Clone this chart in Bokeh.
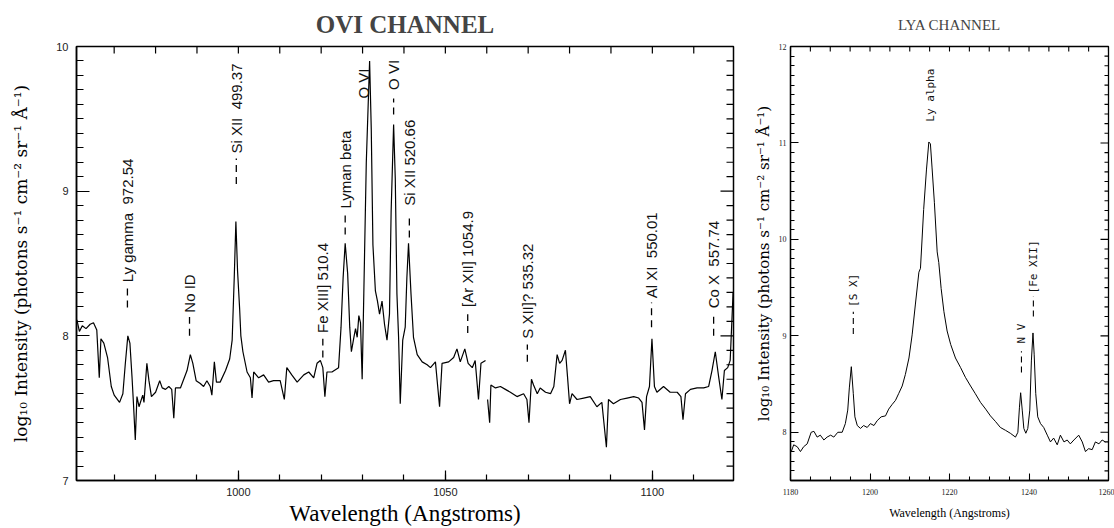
from bokeh.plotting import figure
from bokeh.models import FixedTicker, Range1d
from bokeh.layouts import row
from bokeh.embed import file_html
from bokeh.resources import INLINE
from bokeh.core.properties import value
import numpy as np

# ---------------- OVI channel spectrum (two detector segments) ----------------
ovi_wave_a = [961.0, 961.6, 962.3, 963.2, 964.2, 965.0, 965.8, 966.4, 966.8, 967.5, 968.4, 969.3, 970.0, 971.3,
              972.1, 972.7, 973.3, 973.8, 974.3, 974.7, 975.1, 975.5, 976.0, 976.9, 977.2, 977.9, 978.4, 979.0,
              980.0, 981.0, 981.6, 982.4, 983.2, 983.9, 984.4, 984.8, 986.0, 986.8, 987.6, 988.4, 989.0, 989.8,
              990.8, 991.6, 992.4, 993.2, 993.6, 994.2, 994.7, 995.6, 996.9, 997.9, 998.5, 999.0, 999.4, 999.8,
              1000.3, 1000.6, 1001.1, 1002.1, 1002.9, 1003.3, 1003.7, 1004.9, 1006.1, 1007.3, 1008.5, 1010.1,
              1011.1, 1011.7, 1012.9, 1014.2, 1015.8, 1017.0, 1018.2, 1019.0, 1019.8, 1020.4, 1020.9, 1021.4,
              1022.6, 1024.2, 1024.8, 1025.3, 1025.8, 1026.4, 1026.9, 1027.3, 1027.9, 1028.3, 1028.7, 1029.1,
              1029.5, 1029.9, 1030.3, 1030.9, 1031.7, 1032.1, 1032.5, 1033.1, 1033.6, 1034.1, 1034.7, 1035.3,
              1035.9, 1036.5, 1036.9, 1037.5, 1037.9, 1038.3, 1038.7, 1039.1, 1039.7, 1040.3, 1040.7, 1041.1,
              1041.7, 1042.3, 1043.2, 1044.4, 1045.6, 1046.4, 1047.6, 1048.6, 1049.2, 1050.8, 1052.0, 1052.8,
              1053.6, 1054.7, 1055.5, 1056.5, 1057.2, 1058.0, 1058.6, 1059.7]
ovi_logI_a = [8.11, 8.03, 8.07, 8.05, 8.08, 8.09, 8.04, 7.71, 7.98, 7.95, 7.85, 7.65, 7.59, 7.54,
              7.60, 7.81, 8.00, 7.95, 7.72, 7.51, 7.28, 7.58, 7.51, 7.59, 7.54, 7.81, 7.69, 7.58,
              7.61, 7.69, 7.64, 7.63, 7.65, 7.63, 7.43, 7.64, 7.64, 7.70, 7.76, 7.87, 7.81, 7.69,
              7.67, 7.65, 7.69, 7.65, 7.59, 7.82, 7.68, 7.68, 7.76, 7.84, 7.97, 8.40, 8.79, 8.45,
              8.19, 8.00, 7.89, 7.75, 7.71, 7.57, 7.75, 7.71, 7.73, 7.68, 7.69, 7.69,
              7.56, 7.78, 7.73, 7.68, 7.73, 7.75, 7.71, 7.81, 7.83, 7.78, 7.58, 7.75,
              7.75, 7.78, 8.06, 8.40, 8.64, 8.43, 8.06, 7.89, 7.99, 8.05, 7.99, 8.14,
              8.09, 7.70, 8.29, 9.20, 9.90, 9.43, 8.63, 8.31, 8.24, 8.15, 8.24, 8.08,
              7.97, 8.15, 8.86, 9.46, 9.09, 8.29, 7.99, 7.53, 7.97, 8.06, 8.40, 8.64,
              8.29, 7.99, 7.87, 7.82, 7.80, 7.78, 7.82, 7.51, 7.81, 7.82, 7.85, 7.91,
              7.82, 7.91, 7.81, 7.78, 7.83, 7.56, 7.81, 7.83]
ovi_wave_b = [1060.2, 1060.7, 1061.0, 1062.1, 1063.3, 1064.5, 1065.7, 1067.3, 1068.9, 1069.7, 1070.2, 1070.8,
              1071.3, 1072.2, 1072.9, 1074.2, 1075.4, 1076.2, 1077.0, 1077.6, 1078.2, 1079.0, 1079.5, 1080.0,
              1080.6, 1081.8, 1083.4, 1085.0, 1086.6, 1087.8, 1088.9, 1089.4, 1090.6, 1092.3, 1093.9, 1095.5,
              1096.7, 1097.5, 1098.1, 1098.6, 1099.3, 1099.9, 1100.5, 1101.1, 1102.7, 1104.3, 1106.0, 1106.9,
              1107.4, 1108.0, 1109.2, 1110.8, 1112.4, 1113.6, 1114.4, 1115.2, 1116.0, 1116.8, 1117.4, 1118.2,
              1118.8, 1119.5]
ovi_logI_b = [7.56, 7.40, 7.66, 7.64, 7.65, 7.63, 7.61, 7.58, 7.60, 7.56, 7.40, 7.70,
              7.66, 7.60, 7.64, 7.61, 7.60, 7.65, 7.87, 7.81, 7.83, 7.90, 7.72, 7.53,
              7.60, 7.56, 7.57, 7.58, 7.51, 7.54, 7.23, 7.56, 7.53, 7.56, 7.57, 7.58,
              7.57, 7.54, 7.35, 7.58, 7.65, 7.98, 7.65, 7.61, 7.65, 7.61, 7.61, 7.58,
              7.42, 7.60, 7.63, 7.64, 7.64, 7.65, 7.76, 7.89, 7.72, 7.56, 7.76, 7.78,
              7.83, 8.30]

# line identifications (OVI channel)
ovi_ids = ["Ly gamma\u00a0\u00a0972.54", "No ID", "Si XII\u00a0\u00a0499.37", "Fe XIII]\u00a0510.4",
           "Lyman beta", "O VI", "O VI", "Si XII\u00a0520.66", "[Ar XII]\u00a01054.9",
           "S XII]?\u00a0535.32", "Al XI\u00a0\u00a0550.01", "Co X\u00a0\u00a0557.74"]
ovi_id_wave = [973.2, 988.2, 999.5, 1020.4, 1025.8, 1030.2, 1037.5, 1041.3, 1055.4, 1069.8, 1099.8, 1114.8]
ovi_id_text_y = [8.37, 8.16, 9.26, 8.02, 8.88, 9.64, 9.70, 8.90, 8.20, 7.98, 8.26, 8.19]
ovi_tick_wave = [973.2, 988.2, 999.5, 1020.4, 1025.8, 1037.5, 1041.3, 1055.4, 1069.8, 1099.8, 1114.8]
ovi_tick_lo = [8.195, 8.00, 9.05, 7.85, 8.70, 9.53, 8.68, 8.02, 7.82, 8.06, 8.00]
ovi_tick_hi = [8.33, 8.13, 9.225, 7.98, 8.84, 9.64, 8.83, 8.15, 7.94, 8.23, 8.15]

# ---------------- LYA channel spectrum ----------------
lya_wave = [1180.2, 1180.8, 1181.7, 1182.5, 1183.3, 1184.2, 1185.2, 1185.9, 1186.7, 1187.5, 1188.4, 1189.2,
            1190.1, 1190.9, 1191.9, 1193.0, 1193.8, 1194.4, 1194.8, 1195.3, 1195.8, 1196.2, 1196.8, 1197.6,
            1198.4, 1199.3, 1200.1, 1201.0, 1201.8, 1202.8, 1203.9, 1204.7, 1205.6, 1206.4, 1207.2, 1208.1,
            1208.9, 1209.8, 1210.6, 1211.4, 1212.3, 1212.7, 1213.5, 1214.2, 1214.8, 1215.2, 1215.6, 1216.2,
            1216.9, 1217.3, 1217.9, 1218.6, 1219.4, 1220.3, 1221.5, 1222.8, 1224.0, 1225.3, 1226.5, 1227.8,
            1229.1, 1230.3, 1231.6, 1232.8, 1234.1, 1235.3, 1236.6, 1237.2, 1237.6, 1237.9, 1238.3, 1238.7,
            1239.2, 1239.7, 1240.2, 1240.6, 1241.0, 1241.3, 1241.7, 1242.2, 1242.9, 1243.7, 1244.6, 1245.4,
            1246.2, 1247.1, 1247.9, 1248.8, 1249.6, 1250.4, 1251.3, 1252.5, 1253.4, 1254.2, 1255.0, 1255.9,
            1256.7, 1257.6, 1258.4, 1259.2]
lya_logI = [7.80, 7.87, 7.85, 7.80, 7.85, 7.88, 8.00, 8.01, 7.95, 7.97, 7.92, 7.95,
            7.97, 7.95, 8.00, 8.00, 8.09, 8.23, 8.46, 8.68, 8.40, 8.16, 8.07, 8.04,
            8.07, 8.05, 8.09, 8.07, 8.12, 8.16, 8.17, 8.24, 8.29, 8.33, 8.40, 8.48,
            8.60, 8.77, 9.01, 9.32, 9.66, 9.70, 10.31, 10.72, 11.01, 10.99, 10.75, 10.38,
            9.87, 9.76, 9.49, 9.25, 9.05, 8.91, 8.77, 8.67, 8.57, 8.48, 8.40, 8.31,
            8.24, 8.17, 8.11, 8.05, 8.02, 7.99, 7.95, 8.00, 8.26, 8.41, 8.23, 8.04,
            7.99, 8.04, 8.23, 8.74, 9.03, 8.81, 8.40, 8.16, 8.09, 8.05, 7.97, 7.90,
            7.94, 7.87, 7.97, 7.90, 7.92, 7.88, 7.92, 7.97, 7.90, 7.80, 7.83, 7.82,
            7.90, 7.88, 7.92, 7.90]

lya_ids = ["Ly\u00a0alpha", "[S\u00a0X]", "N\u00a0V", "[Fe\u00a0XII]"]
lya_id_wave = [1215.2, 1195.8, 1238.1, 1241.1]
lya_id_text_y = [11.22, 9.30, 8.92, 9.44]
lya_tick_wave = [1195.8, 1238.1, 1241.1]
lya_tick_lo = [9.02, 8.62, 9.20]
lya_tick_hi = [9.25, 8.84, 9.41]

ovi_major_x = [1000, 1050, 1100]
ovi_minor_x = list(range(960, 1121, 10))
ovi_major_y = [7, 8, 9, 10]
ovi_minor_y = [round(7 + 0.1 * i, 1) for i in range(31)]
lya_major_x = [1180, 1200, 1220, 1240, 1260]
lya_minor_x = list(range(1180, 1261, 5))
lya_major_y = [8, 9, 10, 11, 12]
lya_minor_y = [round(7.5 + 0.1 * i, 1) for i in range(46)]

YLABEL = "log\u2081\u2080 Intensity (photons s\u207b\u00b9 cm\u207b\u00b2 sr\u207b\u00b9 \u00c5\u207b\u00b9)"


def style_axis(ax, major_in, minor_in, lw, font, size):
    ax.major_tick_in = major_in
    ax.major_tick_out = 0
    ax.minor_tick_in = minor_in
    ax.minor_tick_out = 0
    ax.axis_line_color = "black"
    ax.axis_line_width = lw
    ax.major_tick_line_color = "black"
    ax.minor_tick_line_color = "black"
    ax.major_tick_line_width = lw * 0.8
    ax.minor_tick_line_width = lw * 0.8
    ax.major_label_text_font = font
    ax.major_label_text_font_size = size
    ax.major_label_text_color = "#222222"


def mirror_ticks(p, xr, yr, top_ticks, top_len, right_major, right_minor, major_len, minor_len, lw):
    # ticks drawn inward from the top and right frame edges
    p.ray(x=top_ticks, y=[yr.end] * len(top_ticks), length=top_len, length_units="screen",
          angle=-np.pi / 2, line_color="black", line_width=lw)
    minors = [v for v in right_minor if v not in right_major]
    ys = list(right_major) + minors
    lens = [major_len] * len(right_major) + [minor_len] * len(minors)
    p.ray(x=[xr.end] * len(ys), y=ys, length=lens, length_units="screen",
          angle=np.pi, line_color="black", line_width=lw)


# ---------------- left panel ----------------
xr1 = Range1d(960.9, 1119.6)
yr1 = Range1d(7, 10)
p1 = figure(width=750, height=528, x_range=xr1, y_range=yr1,
            output_backend="svg", toolbar_location=None,
            min_border_left=76, min_border_right=17, min_border_top=44, min_border_bottom=47)
p1.xgrid.visible = False
p1.ygrid.visible = False
p1.outline_line_color = "black"
p1.outline_line_width = 1.5
p1.title.text = "OVI CHANNEL"
p1.title.align = "center"
p1.title.text_font = "Liberation Serif"
p1.title.text_font_style = "bold"
p1.title.text_font_size = "25px"
p1.title.standoff = 17

p1.xaxis.ticker = FixedTicker(ticks=ovi_major_x, minor_ticks=ovi_minor_x)
p1.yaxis.ticker = FixedTicker(ticks=ovi_major_y, minor_ticks=ovi_minor_y)
style_axis(p1.xaxis[0], 10, 6, 1.5, "Liberation Sans", "11px")
style_axis(p1.yaxis[0], 13, 7, 1.5, "Liberation Sans", "11px")
p1.xaxis.major_label_standoff = 7
p1.yaxis.major_label_standoff = 8
p1.xaxis.axis_label = "Wavelength (Angstroms)"
p1.yaxis.axis_label = YLABEL
p1.xaxis.axis_label_text_font = "Liberation Serif"
p1.yaxis.axis_label_text_font = "DejaVu Serif"
for ax in (p1.xaxis[0], p1.yaxis[0]):
    ax.axis_label_text_font_style = "normal"
    ax.axis_label_text_color = "black"
p1.xaxis.axis_label_text_font_size = "23px"
p1.yaxis.axis_label_text_font_size = "17px"
p1.xaxis.axis_label_standoff = 2
p1.yaxis.axis_label_standoff = 22
mirror_ticks(p1, xr1, yr1, ovi_minor_x, 7, ovi_major_y, ovi_minor_y, 13, 7, 1.2)

p1.line(ovi_wave_a, ovi_logI_a, line_color="black", line_width=1.2)
p1.line(ovi_wave_b, ovi_logI_b, line_color="black", line_width=1.2)
p1.segment(x0=ovi_tick_wave, y0=ovi_tick_lo, x1=ovi_tick_wave, y1=ovi_tick_hi,
           line_color="black", line_width=1.3, line_dash="7 5")
p1.text(x=ovi_id_wave, y=ovi_id_text_y, text=ovi_ids, angle=np.pi / 2,
        text_align="left", text_baseline="middle", text_color="#111111",
        text_font=value("Liberation Sans"), text_font_size="15px")

# ---------------- right panel ----------------
xr2 = Range1d(1180, 1260)
yr2 = Range1d(7.5, 12)
p2 = figure(width=364, height=528, x_range=xr2, y_range=yr2,
            output_backend="svg", toolbar_location=None,
            min_border_left=40, min_border_right=6, min_border_top=40, min_border_bottom=47)
p2.xgrid.visible = False
p2.ygrid.visible = False
p2.outline_line_color = "black"
p2.outline_line_width = 1.3
p2.title.text = "LYA CHANNEL"
p2.title.align = "center"
p2.title.text_font = "Liberation Serif"
p2.title.text_font_style = "normal"
p2.title.text_font_size = "15px"
p2.title.standoff = 27

p2.xaxis.ticker = FixedTicker(ticks=lya_major_x, minor_ticks=lya_minor_x)
p2.yaxis.ticker = FixedTicker(ticks=lya_major_y, minor_ticks=lya_minor_y)
style_axis(p2.xaxis[0], 7, 4, 1.3, "Liberation Serif", "8px")
style_axis(p2.yaxis[0], 8, 4, 1.3, "Liberation Serif", "8px")
p2.xaxis.major_label_standoff = 8
p2.yaxis.major_label_standoff = 4
p2.xaxis.axis_label = "Wavelength (Angstroms)"
p2.yaxis.axis_label = YLABEL
p2.xaxis.axis_label_text_font = "Liberation Serif"
p2.yaxis.axis_label_text_font = "DejaVu Serif"
for ax in (p2.xaxis[0], p2.yaxis[0]):
    ax.axis_label_text_font_style = "normal"
    ax.axis_label_text_color = "black"
p2.xaxis.axis_label_text_font_size = "12px"
p2.yaxis.axis_label_text_font_size = "15px"
p2.xaxis.axis_label_standoff = 8
p2.yaxis.axis_label_standoff = 3
mirror_ticks(p2, xr2, yr2, lya_minor_x, 5, lya_major_y, lya_minor_y, 8, 4, 1.1)

p2.line(lya_wave, lya_logI, line_color="black", line_width=1.0)
p2.segment(x0=lya_tick_wave, y0=lya_tick_lo, x1=lya_tick_wave, y1=lya_tick_hi,
           line_color="black", line_width=1.1, line_dash="6 4")
p2.text(x=lya_id_wave, y=lya_id_text_y, text=lya_ids, angle=np.pi / 2,
        text_align="left", text_baseline="middle", text_color="#111111",
        text_font=value("DejaVu Sans Mono"), text_font_size="11px")

layout = row(p1, p2)
open("out.html", "w").write(file_html(layout, INLINE))
